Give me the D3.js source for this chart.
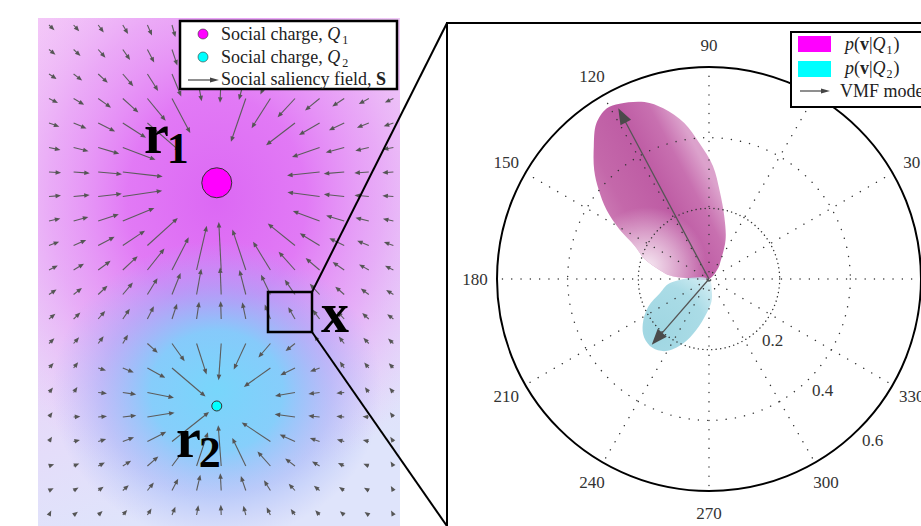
<!DOCTYPE html>
<html>
<head>
<meta charset="utf-8">
<script src="https://cdn.jsdelivr.net/npm/d3@7"></script>
<style>
  body { margin: 0; background: #fff; }
  text { font-family: "Liberation Serif", "Times New Roman", serif; }
</style>
</head>
<body>
<svg id="chart" width="921" height="526"></svg>
<script>
// ---- data: social saliency field (left) ----
const gridCols = d3.range(0, 15);          // quiver sample columns
const gridRows = d3.range(0, 21);          // quiver sample rows
const chargeX = [6.82, 6.82];              // charge positions, grid units
const chargeY = [6.44, 15.55];
const chargeStrength = [1200, 547];        // pull of each charge
const chargePower = [2.6, 3.0];            // fall-off exponent
const chargeCutoff = [3.55, 2.3];          // no arrows drawn inside this radius
const chargeSize = [15, 5];
const arrowBase = 4;

// ---- data: polar panel (right) ----
const angleTicks = [0, 30, 60, 90, 120, 150, 180, 210, 240, 270, 300, 330];
const radiusTicks = [0.2, 0.4, 0.6];
const lobe1Angle = [40, 50, 57, 67, 76, 83, 88, 94, 99, 105, 110, 117, 121, 126, 131, 136.5, 141, 146, 151, 156, 163, 170, 175, 179];
const lobe1Radius = [0, 0.04, 0.06, 0.12, 0.18, 0.25, 0.32, 0.385, 0.447, 0.5, 0.533, 0.557, 0.563, 0.543, 0.497, 0.448, 0.402, 0.35, 0.29, 0.23, 0.19, 0.14, 0.11, 0.05];
const lobe2Angle = [300, 186, 196, 204.5, 214, 222, 230.6, 239, 248, 256, 266, 276, 283];
const lobe2Radius = [0, 0.111, 0.144, 0.189, 0.226, 0.247, 0.252, 0.238, 0.198, 0.149, 0.097, 0.065, 0.035];
const modeAngle = [118, 229];
const modeRadius = [0.547, 0.247];

const svg = d3.select('#chart');
const defs = svg.append('defs');

function addStops(grad, stops) {
  stops.forEach(s => grad.append('stop')
    .attr('offset', s[0]).attr('stop-color', s[1]).attr('stop-opacity', s[2]));
}

// ================= left panel =================
const x = d3.scaleLinear().domain([0, 14]).range([49, 393.4]);
const y = d3.scaleLinear().domain([0, 20]).range([25, 515]);

const left = svg.append('g');

addStops(defs.append('linearGradient').attr('id', 'bgBase')
  .attr('x1', 0).attr('y1', 0).attr('x2', 0.25).attr('y2', 1),
  [[0, '#f5cbf8', 1], [0.45, '#eed0f8', 1], [1, '#dfe4fb', 1]]);

const q1x = x(chargeX[0]), q1y = y(chargeY[0]);
const q2x = x(chargeX[1]), q2y = y(chargeY[1]);

addStops(defs.append('radialGradient').attr('id', 'glow1')
  .attr('gradientUnits', 'userSpaceOnUse')
  .attr('cx', q1x).attr('cy', q1y + 15).attr('r', 255)
  .attr('gradientTransform', `translate(${q1x},${q1y}) scale(1,1.18) translate(${-q1x},${-q1y})`),
  [[0, '#dc68f4', 1], [0.35, '#e070f5', 0.9], [0.65, '#e592f6', 0.6], [1, '#ecb8f7', 0]]);

addStops(defs.append('radialGradient').attr('id', 'glow2')
  .attr('gradientUnits', 'userSpaceOnUse')
  .attr('cx', q2x).attr('cy', q2y - 15).attr('r', 150)
  .attr('gradientTransform', `translate(${q2x},${q2y}) scale(1.1,1) translate(${-q2x},${-q2y})`),
  [[0, '#78d6fb', 1], [0.4, '#7ecffb', 0.92], [0.7, '#98b4f8', 0.5], [1, '#a8b4f8', 0]]);

['bgBase', 'glow1', 'glow2'].forEach(id => {
  left.append('rect').attr('x', 38).attr('y', 18).attr('width', 362).attr('height', 508)
    .attr('fill', `url(#${id})`);
});

// quiver: every sample is pulled toward the charge with the stronger pull
const arrows = [];
gridRows.forEach(j => gridCols.forEach(i => {
  let best = null, skip = false;
  chargeX.forEach((cx, k) => {
    const dx = cx - i, dy = chargeY[k] - j;
    const d = Math.hypot(dx, dy);
    if (d < chargeCutoff[k]) skip = true;
    const m = chargeStrength[k] / Math.pow(d, chargePower[k]);
    if (!best || m > best.m) best = { m: m, ux: dx / d, uy: dy / d };
  });
  if (!skip) arrows.push({ i: i, j: j, len: arrowBase + best.m, ux: best.ux, uy: best.uy });
}));

function arrowHead(tx, ty, ux, uy, hl, hw) {
  const bx = tx - ux * hl, by = ty - uy * hl;
  return `M${tx},${ty}L${bx - uy * hw},${by + ux * hw}L${bx + uy * hw},${by - ux * hw}Z`;
}

const quiver = left.append('g');
arrows.forEach(a => {
  const x0 = x(a.i), y0 = y(a.j);
  const x1 = x0 + a.ux * a.len, y1 = y0 + a.uy * a.len;
  quiver.append('line')
    .attr('x1', x0).attr('y1', y0)
    .attr('x2', x1 - a.ux * 4).attr('y2', y1 - a.uy * 4)
    .attr('stroke', '#5c5c5c').attr('stroke-width', 1.1);
  quiver.append('path').attr('d', arrowHead(x1, y1, a.ux, a.uy, 5.5, 2.3))
    .attr('fill', '#555');
});

// charges
left.selectAll('circle.charge')
  .data(chargeX)
  .enter().append('circle')
  .attr('class', 'charge')
  .attr('cx', d => x(d))
  .attr('cy', (d, k) => y(chargeY[k]))
  .attr('r', (d, k) => chargeSize[k])
  .attr('fill', (d, k) => k === 0 ? '#ff00ff' : '#00ffff')
  .attr('stroke', '#333').attr('stroke-width', 1);

// position labels
function bigLabel(tx, ty, main, sub) {
  const t = left.append('text').attr('x', tx).attr('y', ty)
    .attr('font-weight', 'bold').attr('font-size', 56).attr('fill', '#000');
  t.append('tspan').text(main);
  if (sub) t.append('tspan').attr('font-size', 44).attr('dy', 10).attr('dx', -2).text(sub);
}
bigLabel(144, 153, 'r', '1');
bigLabel(176, 457, 'r', '2');
bigLabel(321, 332, 'x');

// zoom box on x
left.append('rect').attr('x', 268).attr('y', 292).attr('width', 44).attr('height', 40)
  .attr('fill', 'none').attr('stroke', '#000').attr('stroke-width', 2.5);

// legend (left)
const lg = svg.append('g');
lg.append('rect').attr('x', 180).attr('y', 21).attr('width', 217).attr('height', 68)
  .attr('fill', '#fff').attr('stroke', '#000').attr('stroke-width', 2.5);
lg.append('circle').attr('cx', 203).attr('cy', 34).attr('r', 5).attr('fill', '#ff00ff').attr('stroke', '#333').attr('stroke-width', 0.6);
lg.append('circle').attr('cx', 203).attr('cy', 57).attr('r', 5).attr('fill', '#00ffff').attr('stroke', '#333').attr('stroke-width', 0.6);
lg.append('line').attr('x1', 188).attr('y1', 80).attr('x2', 212).attr('y2', 80).attr('stroke', '#444').attr('stroke-width', 1.2);
lg.append('path').attr('d', arrowHead(219, 80, 1, 0, 9, 2.5)).attr('fill', '#444');
[['1', 40], ['2', 63]].forEach(r => {
  const t = lg.append('text').attr('x', 221).attr('y', r[1]).attr('font-size', 18).attr('fill', '#222');
  t.append('tspan').text('Social charge, ');
  t.append('tspan').attr('font-style', 'italic').text('Q');
  t.append('tspan').attr('font-size', 12).attr('dy', 4).attr('dx', 2).text(r[0]);
});
const t3 = lg.append('text').attr('x', 221).attr('y', 85).attr('font-size', 18).attr('fill', '#222');
t3.append('tspan').text('Social saliency field, ');
t3.append('tspan').attr('font-weight', 'bold').text('S');

// ================= right panel =================
const cx = 709, cy = 279;
const r = d3.scaleLinear().domain([0, 0.6]).range([0, 212]);
const rad = a => a * Math.PI / 180;

// connector lines from the zoom box to the panel
svg.append('line').attr('x1', 312).attr('y1', 292).attr('x2', 447).attr('y2', 23)
  .attr('stroke', '#000').attr('stroke-width', 2);
svg.append('line').attr('x1', 312).attr('y1', 332).attr('x2', 449).attr('y2', 529)
  .attr('stroke', '#000').attr('stroke-width', 2);

const right = svg.append('g');
right.append('rect').attr('x', 447).attr('y', 23).attr('width', 600).attr('height', 600)
  .attr('fill', '#fff').attr('stroke', '#000').attr('stroke-width', 2);

const polar = right.append('g').attr('transform', `translate(${cx},${cy})`);

// lobe 1 shading: dark along the mode direction, lighter toward both sides
const ax = Math.cos(rad(modeAngle[0])), ay = -Math.sin(rad(modeAngle[0]));
const qx = -ay, qy = ax;   // perpendicular, clockwise side
addStops(defs.append('linearGradient').attr('id', 'lobe1Fill')
  .attr('gradientUnits', 'userSpaceOnUse')
  .attr('x1', -qx * 72).attr('y1', -qy * 72)
  .attr('x2', qx * 50).attr('y2', qy * 50),
  [[0, '#cf82b8', 1], [0.25, '#c468aa', 1], [0.58, '#be5ca4', 1], [0.82, '#c870b0', 1], [1, '#dca2cc', 1]]);
addStops(defs.append('radialGradient').attr('id', 'lobe1Fade')
  .attr('gradientUnits', 'userSpaceOnUse')
  .attr('cx', -62).attr('cy', -12).attr('r', 60),
  [[0, '#ffffff', 0.85], [0.55, '#ffffff', 0.4], [1, '#ffffff', 0]]);
addStops(defs.append('radialGradient').attr('id', 'lobe2Fill')
  .attr('gradientUnits', 'userSpaceOnUse')
  .attr('cx', r(0.21) * Math.cos(rad(226))).attr('cy', -r(0.21) * Math.sin(rad(226)))
  .attr('r', 80),
  [[0, '#9fd6e2', 1], [0.6, '#a6dae5', 0.95], [0.85, '#c2e6ee', 0.85], [1, '#eaf6f8', 0.5]]);

const lobeLine = d3.lineRadial()
  .angle(d => rad(90 - d[0]))
  .radius(d => r(d[1]))
  .curve(d3.curveCatmullRomClosed.alpha(0.5));

const lobe1 = d3.zip(lobe1Angle, lobe1Radius);
defs.append('clipPath').attr('id', 'lobe1Clip')
  .append('path').attr('d', lobeLine(lobe1));
polar.append('path').datum(lobe1).attr('d', lobeLine).attr('fill', 'url(#lobe1Fill)');
// soften the lower flank near the origin
polar.append('circle').attr('cx', -62).attr('cy', -12).attr('r', 62)
  .attr('clip-path', 'url(#lobe1Clip)').attr('fill', 'url(#lobe1Fade)');
polar.append('path').datum(d3.zip(lobe2Angle, lobe2Radius))
  .attr('d', lobeLine).attr('fill', 'url(#lobe2Fill)');

// dotted grid
polar.selectAll('circle.grid')
  .data(radiusTicks.slice(0, -1))
  .enter().append('circle')
  .attr('class', 'grid')
  .attr('r', d => r(d))
  .attr('fill', 'none').attr('stroke', '#333').attr('stroke-width', 1.4)
  .attr('stroke-linecap', 'round')
  .attr('stroke-dasharray', (d, i) => i === 0 ? '0.1 4.4' : '0.1 9.2');

polar.selectAll('line.spoke')
  .data(angleTicks.slice(0, 6))
  .enter().append('line')
  .attr('class', 'spoke')
  .attr('x1', d => r(0.6) * Math.cos(rad(d)))
  .attr('y1', d => -r(0.6) * Math.sin(rad(d)))
  .attr('x2', d => -r(0.6) * Math.cos(rad(d)))
  .attr('y2', d => r(0.6) * Math.sin(rad(d)))
  .attr('stroke', '#333').attr('stroke-width', 1.4)
  .attr('stroke-linecap', 'round')
  .attr('stroke-dasharray', '0.1 9.2');

polar.append('circle').attr('r', r(0.6))
  .attr('fill', 'none').attr('stroke', '#000').attr('stroke-width', 2);

// VMF mode arrows
modeAngle.forEach((a, k) => {
  const ux = Math.cos(rad(a)), uy = -Math.sin(rad(a));
  const L = r(modeRadius[k]);
  polar.append('line').attr('x1', 0).attr('y1', 0)
    .attr('x2', ux * (L - 12)).attr('y2', uy * (L - 12))
    .attr('stroke', '#555').attr('stroke-width', 1.3);
  polar.append('path').attr('d', arrowHead(ux * L, uy * L, ux, uy, 16, 6))
    .attr('fill', '#4a4a4a');
});

// angle labels
right.selectAll('text.ang')
  .data(angleTicks)
  .enter().append('text')
  .attr('class', 'ang')
  .attr('x', d => cx + 234 * Math.cos(rad(d)))
  .attr('y', d => cy - 234 * Math.sin(rad(d)) + 6)
  .attr('text-anchor', 'middle')
  .attr('font-size', 17).attr('fill', '#333')
  .text(d => d);

// radius labels
right.selectAll('text.rad')
  .data(radiusTicks)
  .enter().append('text')
  .attr('class', 'rad')
  .attr('x', d => cx + r(d) * Math.cos(rad(45)) + 3)
  .attr('y', d => cy + r(d) * Math.sin(rad(45)) + 17)
  .attr('font-size', 17).attr('fill', '#333')
  .text(d => d);

// legend (right)
const rg = svg.append('g');
rg.append('rect').attr('x', 791).attr('y', 32).attr('width', 200).attr('height', 75)
  .attr('fill', '#fff').attr('stroke', '#000').attr('stroke-width', 2);
rg.append('rect').attr('x', 798).attr('y', 36).attr('width', 33).attr('height', 16).attr('fill', '#ff00ff');
rg.append('rect').attr('x', 798).attr('y', 61).attr('width', 33).attr('height', 16).attr('fill', '#00ffff');
rg.append('line').attr('x1', 800).attr('y1', 91).attr('x2', 822).attr('y2', 91).attr('stroke', '#444').attr('stroke-width', 1.2);
rg.append('path').attr('d', arrowHead(830, 91, 1, 0, 9, 2.5)).attr('fill', '#444');
[['1', 50], ['2', 74]].forEach(e => {
  const t = rg.append('text').attr('x', 845).attr('y', e[1]).attr('font-size', 18).attr('fill', '#222');
  t.append('tspan').attr('font-style', 'italic').text('p');
  t.append('tspan').text('(');
  t.append('tspan').attr('font-weight', 'bold').text('v');
  t.append('tspan').text('|');
  t.append('tspan').attr('font-style', 'italic').text('Q');
  t.append('tspan').attr('font-size', 12).attr('dy', 4).attr('dx', 1).text(e[0]);
  t.append('tspan').attr('dy', -4).attr('dx', 1).text(')');
});
rg.append('text').attr('x', 840).attr('y', 97).attr('font-size', 18).attr('fill', '#222').text('VMF mode');
</script>
</body>
</html>
